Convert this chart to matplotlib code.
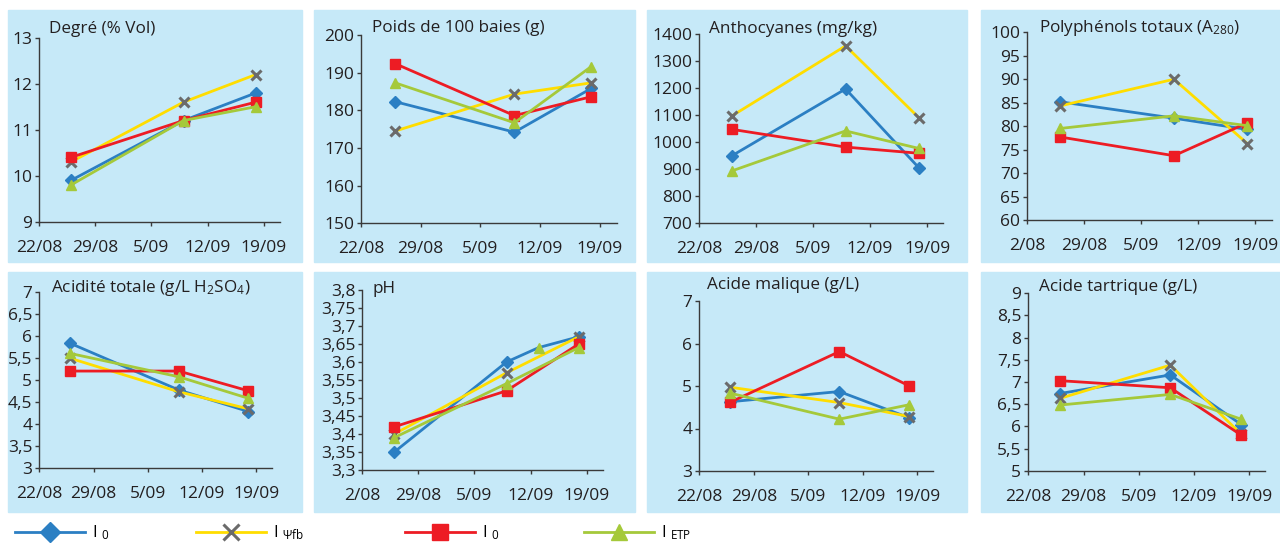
import pandas as pd
import numpy as np
import matplotlib
matplotlib.use("Agg")
import matplotlib.pyplot as plt
from matplotlib.lines import Line2D
from matplotlib.patches import Rectangle
from matplotlib.ticker import FuncFormatter
from matplotlib.transforms import ScaledTranslation

plt.rcParams['font.family'] = ['Open Sans', 'DejaVu Sans']
plt.rcParams['mathtext.fontset'] = 'custom'
plt.rcParams['mathtext.rm'] = 'Open Sans'
plt.rcParams['mathtext.it'] = 'Open Sans'
plt.rcParams['mathtext.default'] = 'regular'

# sampling dates and x axis ticks
sample_dates = pd.to_datetime(["2011-08-26", "2011-09-09", "2011-09-18"])
tick_dates = pd.to_datetime(["2011-08-22", "2011-08-29", "2011-09-05", "2011-09-12", "2011-09-19"])
x_start = pd.Timestamp("2011-08-22")
x_end = pd.Timestamp("2011-09-21")
tick_labels = ["22/08", "29/08", "5/09", "12/09", "19/09"]
tick_labels_cut = ["2/08", "29/08", "5/09", "12/09", "19/09"]

series_names = ["I $_{0}$", "I $_{\u03a8fb}$", "I $_{0}$", "I $_{ETP}$"]

# one list per series: blue, yellow, red, green
degre = [[9.9, 11.2, 11.8], [10.3, 11.6, 12.2], [10.4, 11.2, 11.6], [9.8, 11.2, 11.5]]
poids = [[182.3, 174.2, 185.8], [174.5, 184.3, 187.3], [192.4, 178.6, 183.6], [187.3, 176.7, 191.6]]
antho = [[948, 1197, 904], [1096, 1357, 1090], [1047, 981, 958], [892, 1041, 976]]
polyph = [[85.2, 81.7, 79.3], [84.3, 90.0, 76.3], [77.7, 73.7, 80.7], [79.5, 82.2, 80.1]]
acidite = [[5.84, 4.78, 4.29], [5.50, 4.74, 4.35], [5.21, 5.21, 4.76], [5.61, 5.08, 4.59]]
ph = [[3.35, 3.60, 3.67], [3.40, 3.57, 3.67], [3.42, 3.52, 3.65], [3.39, 3.54, 3.64]]
malique = [[4.63, 4.87, 4.25], [4.97, 4.61, 4.28], [4.62, 5.81, 5.00], [4.83, 4.22, 4.56]]
tartrique = [[6.74, 7.16, 6.04], [6.63, 7.38, 5.82], [7.03, 6.87, 5.80], [6.48, 6.72, 6.16]]

# pH: stray point on 13/09 that the blue line runs through
ph_extra_date = pd.Timestamp("2011-09-13")
ph_extra_value = 3.64

titles = ["Degré (% Vol)", "Poids de 100 baies (g)", "Anthocyanes (mg/kg)",
          "Polyphénols totaux (A$_{280}$)", "Acidité totale (g/L H$_{2}$SO$_{4}$)",
          "pH", "Acide malique (g/L)", "Acide tartrique (g/L)"]
datasets = [degre, poids, antho, polyph, acidite, ph, malique, tartrique]
y_ranges = [(9, 13, 1), (150, 200, 10), (700, 1400, 100), (60, 100, 5),
            (3, 7, 0.5), (3.3, 3.8, 0.05), (3, 7, 1), (5, 9, 0.5)]
cut = [False, False, False, True, False, True, False, False]

line_colors = ['#2b7fc3', '#ffdd00', '#ed1c24', '#a5c93a']
marker_styles = [dict(marker='D', ms=6, mfc='#2b7fc3', mec='#2b7fc3'),
                 dict(marker='x', ms=7, mec='#6b6b6b', mew=2.2),
                 dict(marker='s', ms=6.5, mfc='#ed1c24', mec='#ed1c24'),
                 dict(marker='^', ms=7, mfc='#a5c93a', mec='#a5c93a')]

W, H = 1280, 546
fig = plt.figure(figsize=(W / 100, H / 100), dpi=100)
bg = '#c6e9f8'

# panel backgrounds (pixels: left, right, top, bottom)
col_edges = [(8, 302), (314, 635), (647, 967), (981, 1280)]
row_edges = [(10, 262), (272, 512)]
for (t, b) in row_edges:
    for (l, r) in col_edges:
        fig.patches.append(Rectangle((l / W, 1 - b / H), (r - l) / W, (b - t) / H,
                                     transform=fig.transFigure, color=bg, zorder=-10))

# axes boxes in pixels: left, right, top, bottom
boxes = [(39, 280, 37.7, 221.7), (361, 616.7, 35, 223.3), (699, 943.3, 34.3, 222.7),
         (1027.3, 1271.7, 32.3, 220), (39.3, 271.7, 292.3, 468.3), (362.3, 602.7, 290, 470),
         (699.3, 932.7, 301, 471), (1028.3, 1265, 293.3, 470.7)]
# title baseline positions in pixels
title_pos = [(49, 33), (371.7, 32.3), (709, 33), (1039, 31.7),
             (51, 291.7), (372.3, 293.3), (706.7, 289.3), (1039, 290.7)]
# small horizontal nudges of the first date labels (pixels)
shift_full = [10, 7, 2, 0, 0]
shift_cut = [4, 5, 1, 0, 0]

comma = FuncFormatter(lambda v, p: ("%g" % round(v, 2)).replace('.', ','))

for i in range(8):
    l, r, t, b = boxes[i]
    ax = fig.add_axes([l / W, 1 - b / H, (r - l) / W, (b - t) / H])
    ax.set_facecolor('none')
    data = datasets[i]
    for k in range(4):
        if i == 5 and k == 0:
            d = list(sample_dates[:2]) + [ph_extra_date] + [sample_dates[2]]
            v = data[k][:2] + [ph_extra_value] + [data[k][2]]
            ax.plot(d, v, color=line_colors[k], lw=2, markevery=[0, 1, 3],
                    clip_on=False, **marker_styles[k])
        else:
            ax.plot(sample_dates, data[k], color=line_colors[k], lw=2,
                    clip_on=False, **marker_styles[k])
    if i == 5:
        ax.plot([ph_extra_date], [ph_extra_value], ls='none', **marker_styles[3])
    lo, hi, step = y_ranges[i]
    ax.set_ylim(lo, hi)
    ax.set_yticks(np.arange(lo, hi + step / 2, step))
    ax.yaxis.set_major_formatter(comma)
    ax.set_xlim(x_start, x_end)
    ax.set_xticks(tick_dates)
    ax.set_xticklabels(tick_labels_cut if cut[i] else tick_labels)
    shifts = shift_cut if cut[i] else shift_full
    for lab, dx in zip(ax.get_xticklabels(), shifts):
        lab.set_transform(lab.get_transform() + ScaledTranslation(dx / 100, 0, fig.dpi_scale_trans))
    for s in ['top', 'right']:
        ax.spines[s].set_visible(False)
    for s in ['left', 'bottom']:
        ax.spines[s].set_color('#3a3a3a')
        ax.spines[s].set_linewidth(1)
    ax.tick_params(axis='y', length=3, width=1, color='#3a3a3a', pad=2,
                   labelsize=12.5, labelcolor='#231f20')
    ax.tick_params(axis='x', length=3, width=1, color='#3a3a3a', pad=10,
                   labelsize=12.5, labelcolor='#231f20')
    tx, ty = title_pos[i]
    fig.text(tx / W, 1 - ty / H, titles[i], fontsize=12.3, color='#231f20',
             va='baseline', ha='left')

# legend, one entry at a time
legend_x = [15, 196, 405, 584]
for k in range(4):
    h = Line2D([], [], color=line_colors[k], lw=2, **marker_styles[k])
    fig.legend([h], [series_names[k]], loc='center left',
               bbox_to_anchor=(legend_x[k] / W, 1 - 533 / H), frameon=False,
               handlelength=4.2, handletextpad=0.4, borderpad=0, borderaxespad=0,
               markerscale=1.7, numpoints=1, fontsize=12)

fig.savefig("out.png", dpi=100, facecolor='white')
